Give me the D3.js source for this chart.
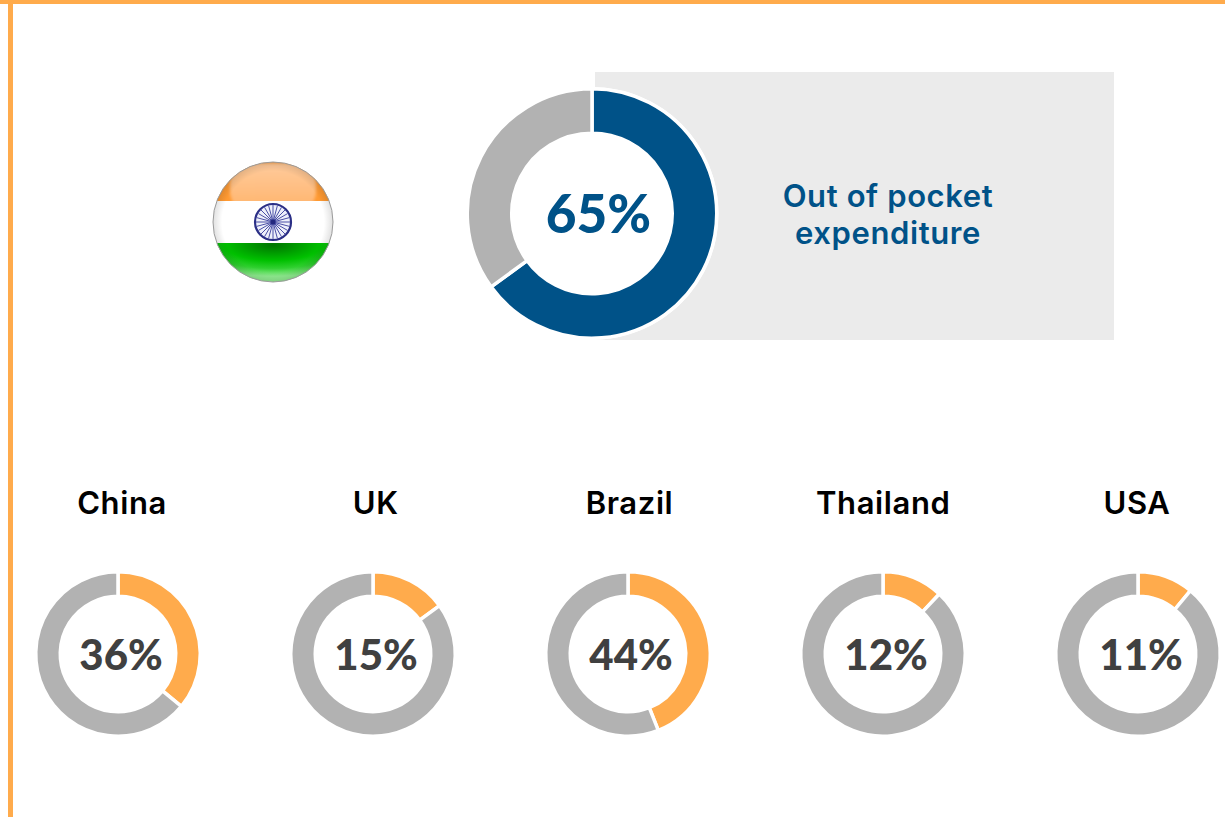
<!DOCTYPE html>
<html>
<head>
<meta charset="utf-8">
<script src="https://cdn.jsdelivr.net/npm/d3@7"></script>
<style>
  html, body { margin: 0; padding: 0; background: #fff; overflow: hidden; }
  text { font-family: Inter, Lato, sans-serif; font-weight: 600; text-anchor: middle; letter-spacing: 0.6px; }
  text.pct { font-family: Lato, sans-serif; font-weight: 900; letter-spacing: 0; }
</style>
</head>
<body>
<div id="chart"></div>
<script>
// India headline figure
const mainValue = 65;
const mainLabel = ["Out of pocket", "expenditure"];

// comparison countries
const countries = ["China", "UK", "Brazil", "Thailand", "USA"];
const countryValues = [36, 15, 44, 12, 11];

const svgWidth = 1225;
const svgHeight = 817;

const orange = "#ffab4c";
const blue = "#005288";
const grey = "#b2b2b2";

const svg = d3.select("#chart")
  .append("svg")
  .attr("width", svgWidth)
  .attr("height", svgHeight)
  .style("display", "block");

// orange frame, top and left only
svg.append("rect").attr("x", 0).attr("y", 0).attr("width", svgWidth).attr("height", 4).attr("fill", orange);
svg.append("rect").attr("x", 8).attr("y", 0).attr("width", 5).attr("height", svgHeight).attr("fill", orange);

// grey panel behind the main donut
svg.append("rect")
  .attr("x", 595).attr("y", 72)
  .attr("width", 519).attr("height", 268)
  .attr("fill", "#ebebeb");

const pie = d3.pie().sort(null).value(d => d);

// draws one donut, value slice clockwise from 12 o'clock
// the white stroke eats gap/2 of the ring on each side, so radii are padded
function drawDonut(cx, cy, outer, inner, value, color, gap) {
  const g = svg.append("g").attr("transform", `translate(${cx}, ${cy})`);
  const arc = d3.arc().innerRadius(inner - gap / 2).outerRadius(outer + gap / 2);

  g.append("circle").attr("r", outer + gap).attr("fill", "#fff");

  g.selectAll("path")
    .data(pie([value, 100 - value]))
    .enter()
    .append("path")
    .attr("d", arc)
    .attr("fill", (d, i) => i === 0 ? color : grey)
    .attr("stroke", "#fff")
    .attr("stroke-width", gap);

  return g;
}

const main = drawDonut(592, 213.5, 123, 82, mainValue, blue, 3.5);
main.append("text")
  .attr("class", "pct")
  .attr("x", 6.5).attr("y", 19)
  .attr("font-size", 53)
  .attr("fill", blue)
  .text(mainValue + "%");

svg.selectAll(".mainLabel")
  .data(mainLabel)
  .enter()
  .append("text")
  .attr("class", "mainLabel")
  .attr("x", 888)
  .attr("y", (d, i) => 207 + i * 37)
  .attr("font-size", 31)
  .attr("fill", blue)
  .text(d => d);

// small donuts
const xCountry = d3.scalePoint()
  .domain(countries)
  .range([118, 1138]);

// the names sit on a slightly tighter spacing than the rings
const xName = d3.scalePoint()
  .domain(countries)
  .range([122, 1137]);

countries.forEach((name, i) => {
  const cx = xCountry(name);
  const g = drawDonut(cx, 654, 80.5, 59.5, countryValues[i], orange, 3.5);
  g.append("text")
    .attr("class", "pct")
    .attr("x", 3).attr("y", 16)
    .attr("font-size", 42)
    .attr("fill", "#404040")
    .text(countryValues[i] + "%");
  svg.append("text")
    .attr("x", xName(name)).attr("y", 514)
    .attr("font-size", 31)
    .attr("fill", "#000")
    .text(name);
});

// round India flag
const flagStripes = ["#ff9a33", "#ffffff", "#00a800"];
const spokes = d3.range(24);
const flagX = 273, flagY = 222, flagR = 60;
const defs = svg.append("defs");

defs.append("clipPath").attr("id", "flagClip")
  .append("circle").attr("r", flagR);
defs.append("clipPath").attr("id", "stripeClip")
  .append("rect").attr("x", -flagR).attr("y", -flagR).attr("width", 2 * flagR).attr("height", 39);
defs.append("filter").attr("id", "soften")
  .append("feGaussianBlur").attr("stdDeviation", 1.5);

const topGlow = defs.append("linearGradient").attr("id", "topGlow")
  .attr("x1", 0).attr("y1", 0).attr("x2", 0).attr("y2", 1);
topGlow.append("stop").attr("offset", "0%").attr("stop-color", "#ffcb9c");
topGlow.append("stop").attr("offset", "100%").attr("stop-color", "#ffb268");

const greenGlow = defs.append("radialGradient").attr("id", "greenGlow")
  .attr("cx", "50%").attr("cy", "5%").attr("r", "80%");
greenGlow.append("stop").attr("offset", "0%").attr("stop-color", "#007400");
greenGlow.append("stop").attr("offset", "50%").attr("stop-color", "#00c000");
greenGlow.append("stop").attr("offset", "75%").attr("stop-color", "#30d030");
greenGlow.append("stop").attr("offset", "100%").attr("stop-color", "#90ec90");

const flagShadow = defs.append("radialGradient").attr("id", "flagShadow");
flagShadow.append("stop").attr("offset", "85%").attr("stop-color", "#000").attr("stop-opacity", 0);
flagShadow.append("stop").attr("offset", "100%").attr("stop-color", "#000").attr("stop-opacity", 0.12);

const flag = svg.append("g").attr("transform", `translate(${flagX}, ${flagY})`);
const flagBody = flag.append("g").attr("clip-path", "url(#flagClip)");

flagBody.append("rect").attr("x", -flagR).attr("y", -flagR).attr("width", 2 * flagR).attr("height", 39).attr("fill", flagStripes[0]);
flagBody.append("g").attr("clip-path", "url(#stripeClip)")
  .append("rect").attr("x", -43).attr("y", -59).attr("width", 86).attr("height", 50).attr("rx", 22)
  .attr("fill", "url(#topGlow)").attr("filter", "url(#soften)");
flagBody.append("rect").attr("x", -flagR).attr("y", -21).attr("width", 2 * flagR).attr("height", 42).attr("fill", flagStripes[1]);
flagBody.append("rect").attr("x", -flagR).attr("y", 21).attr("width", 2 * flagR).attr("height", 39).attr("fill", "url(#greenGlow)");
flagBody.append("circle").attr("r", flagR).attr("fill", "url(#flagShadow)");

// chakra
flag.append("circle").attr("r", 18).attr("fill", "#eef0fa").attr("stroke", "#2b2f86").attr("stroke-width", 2.2);
flag.selectAll(".spoke")
  .data(spokes)
  .enter()
  .append("line")
  .attr("class", "spoke")
  .attr("x2", d => 17 * Math.cos(d * Math.PI / 12))
  .attr("y2", d => 17 * Math.sin(d * Math.PI / 12))
  .attr("stroke", "#4a4ea6")
  .attr("stroke-width", 1);
flag.append("circle").attr("r", 2.5).attr("fill", "#23277e");

flag.append("circle").attr("r", flagR).attr("fill", "none").attr("stroke", "#9a9a9a").attr("stroke-width", 1);
</script>
</body>
</html>
